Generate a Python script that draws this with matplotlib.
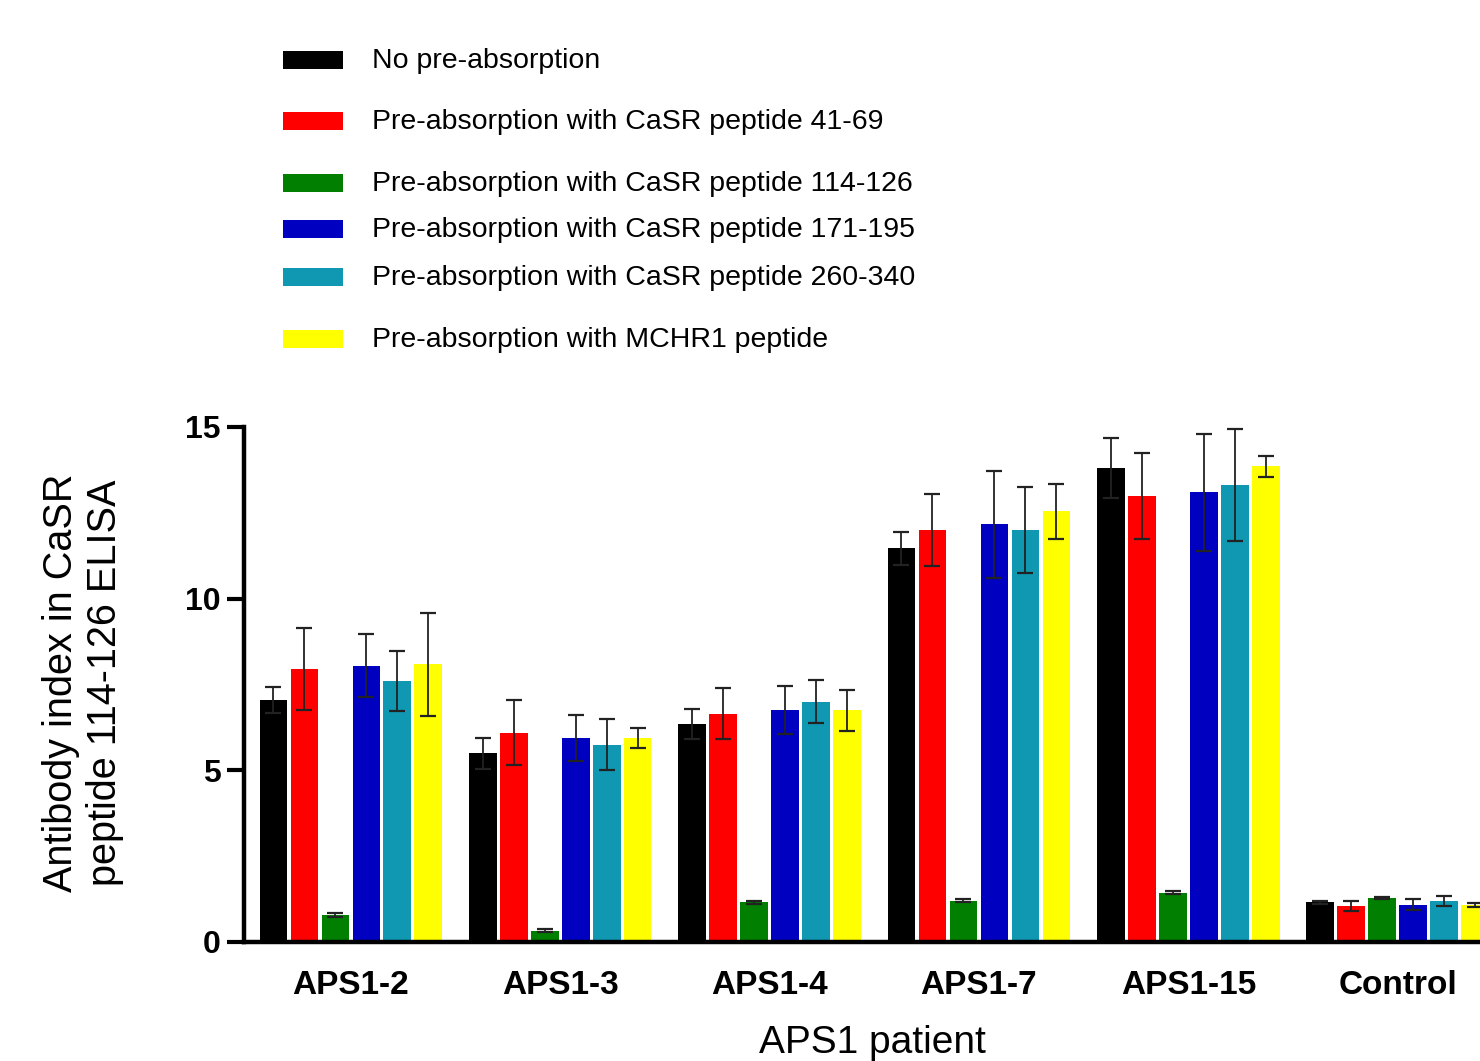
import numpy as np
import matplotlib
matplotlib.use('Agg')
import matplotlib.pyplot as plt
from matplotlib.patches import Rectangle

plt.rcParams['font.family'] = ['Liberation Sans', 'DejaVu Sans']

# Groups and series
groups = ['APS1-2', 'APS1-3', 'APS1-4', 'APS1-7', 'APS1-15', 'Control']
series = ['No pre-absorption',
          'Pre-absorption with CaSR peptide 41-69',
          'Pre-absorption with CaSR peptide 114-126',
          'Pre-absorption with CaSR peptide 171-195',
          'Pre-absorption with CaSR peptide 260-340',
          'Pre-absorption with MCHR1 peptide']
colors = ['#000000', '#ff0000', '#007f00', '#0000c0', '#1098b2', '#ffff00']

# mean values per series (one value per group)
no_pre = [7.05, 5.49, 6.34, 11.46, 13.80, 1.15]
casr_41_69 = [7.95, 6.09, 6.65, 12.01, 13.00, 1.04]
casr_114_126 = [0.78, 0.33, 1.15, 1.20, 1.44, 1.29]
casr_171_195 = [8.05, 5.94, 6.75, 12.16, 13.10, 1.09]
casr_260_340 = [7.60, 5.75, 7.00, 12.01, 13.31, 1.20]
mchr1 = [8.09, 5.94, 6.75, 12.55, 13.85, 1.08]

# error (SEM) per series
no_pre_err = [0.38, 0.45, 0.44, 0.47, 0.88, 0.03]
casr_41_69_err = [1.20, 0.95, 0.75, 1.05, 1.25, 0.15]
casr_114_126_err = [0.05, 0.05, 0.05, 0.04, 0.04, 0.03]
casr_171_195_err = [0.92, 0.68, 0.70, 1.55, 1.70, 0.15]
casr_260_340_err = [0.88, 0.75, 0.62, 1.25, 1.62, 0.15]
mchr1_err = [1.50, 0.30, 0.60, 0.80, 0.30, 0.05]

values = [no_pre, casr_41_69, casr_114_126, casr_171_195, casr_260_340, mchr1]
errors = [no_pre_err, casr_41_69_err, casr_114_126_err,
          casr_171_195_err, casr_260_340_err, mchr1_err]

fig = plt.figure(figsize=(14.8, 10.61), dpi=100)
ax = fig.add_axes([0.1649, 0.1122, 0.8351, 0.4854])

x = np.arange(len(groups))
pitch = 0.148
width = 0.132
for i, (vals, errs, col) in enumerate(zip(values, errors, colors)):
    pos = x + (i - 2.5) * pitch
    ax.bar(pos, vals, width=width, color=col, edgecolor='none', zorder=2)
    ax.errorbar(pos, vals, yerr=errs, fmt='none', ecolor='#222222',
                elinewidth=1.3, capsize=6, capthick=1.6, zorder=3, clip_on=False)

ax.set_xlim(-0.51, 5.393)
ax.set_ylim(0, 15)
ax.set_yticks([0, 5, 10, 15])
ax.set_xticks(x)
ax.set_xticklabels(groups, fontsize=24, fontweight='bold')
ax.tick_params(axis='x', length=0, pad=20)
ax.tick_params(axis='y', length=12, width=3, labelsize=23, pad=5)
for lbl in ax.get_yticklabels():
    lbl.set_fontweight('bold')
for side in ['top', 'right']:
    ax.spines[side].set_visible(False)
for side in ['left', 'bottom']:
    ax.spines[side].set_linewidth(3.2)

fig.text(83 / 1480, 1 - 683 / 1061, 'Antibody index in CaSR\npeptide 114-126 ELISA',
         rotation=90, ha='center', va='center', fontsize=28.5, linespacing=1.18)
fig.text(872 / 1480, 1 - 1053 / 1061, 'APS1 patient', ha='center', va='baseline',
         fontsize=28)

# legend with irregular row spacing, as in the original
row_y = [60, 121, 183, 229, 277, 339]
for yy, lab, col in zip(row_y, series, colors):
    fig.add_artist(Rectangle((283 / 1480, 1 - (yy + 9) / 1061), 60 / 1480, 18 / 1061,
                             transform=fig.transFigure, facecolor=col, edgecolor='none'))
    fig.text(372 / 1480, 1 - (yy + 1) / 1061, lab, ha='left', va='center', fontsize=20.5)

fig.savefig('out.png', dpi=100)
